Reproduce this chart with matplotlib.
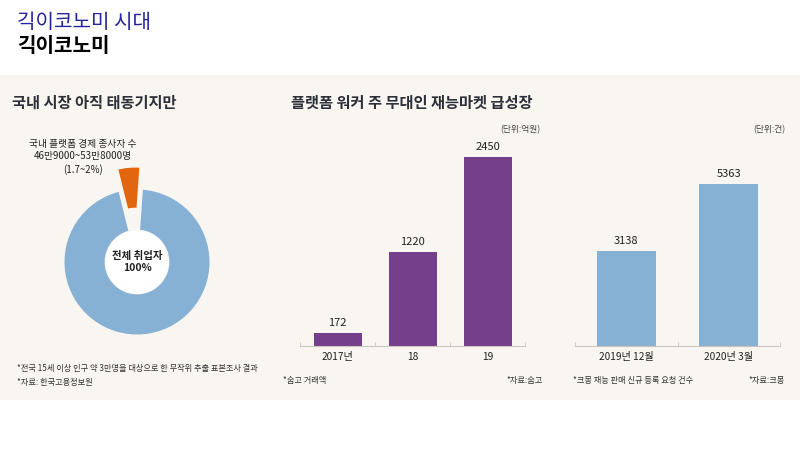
import matplotlib
matplotlib.use("Agg")
import matplotlib.pyplot as plt
from matplotlib.patches import Rectangle, Circle

plt.rcParams['font.family'] = ['Noto Sans CJK KR', 'DejaVu Sans']

# data
pie_labels = ['국내 플랫폼 경제 종사자', '기타 취업자']
pie_shares = [5, 95]   # share as drawn (approx.)

soomgo_years = ['2017년', '18', '19']
soomgo_sales = [172, 1220, 2450]          # 억원

kmong_dates = ['2019년 12월', '2020년 3월']
kmong_requests = [3138, 5363]             # 건

W, H = 800, 450
BG = '#f9f6f1'
PURPLE = '#763f8c'
BLUE = '#86b0d4'
ORANGE = '#e2660f'
DARK = '#2b2f38'


def px(x, y):
    return x / W, 1 - y / H


def box(x0, y0, x1, y1):
    return [x0 / W, 1 - y1 / H, (x1 - x0) / W, (y1 - y0) / H]


fig = plt.figure(figsize=(8, 4.5), dpi=100)
fig.patch.set_facecolor('white')

# beige panel (behind everything)
fig.patches.append(Rectangle((0, 1 - 400 / H), 1, (400 - 75) / H,
                             transform=fig.transFigure, facecolor=BG,
                             edgecolor='none', zorder=-10))

# headline
fig.text(*px(17, 22), '긱이코노미 시대', color='#25249c', fontsize=14.5,
         va='center', ha='left')
fig.text(*px(17, 46), '긱이코노미', color='black', fontsize=14.5,
         fontweight='bold', va='center', ha='left')

# section titles
fig.text(*px(12, 103), '국내 시장 아직 태동기지만', color=DARK, fontsize=11,
         fontweight='bold', va='center', ha='left')
fig.text(*px(291, 103), '플랫폼 워커 주 무대인 재능마켓 급성장', color=DARK,
         fontsize=11, fontweight='bold', va='center', ha='left')

# ---- donut ----
ax_pie = fig.add_axes(box(27, 152, 247, 372))
ax_pie.pie(pie_shares, colors=[ORANGE, BLUE], explode=[0.3, 0],
           startangle=95 - pie_shares[0] / 100 * 180, radius=1,
           wedgeprops=dict(width=0.57, edgecolor=BG, linewidth=1.2))
ax_pie.set_xlim(-1.5, 1.5)
ax_pie.set_ylim(-1.5, 1.5)
ax_pie.set_aspect('equal')
ax_pie.axis('off')
ax_pie.add_patch(Circle((0, 0), 0.43, facecolor='white', edgecolor='none',
                        zorder=5))
ax_pie.text(0, 0, '전체 취업자\n100%', ha='center', va='center', fontsize=7.5,
            fontweight='bold', color='#222222', zorder=6, linespacing=1.3)

fig.text(*px(83, 157), '국내 플랫폼 경제 종사자 수\n46만9000~53만8000명\n(1.7~2%)',
         ha='center', va='center', fontsize=7, color='#222222',
         linespacing=1.25)

fig.text(*px(17, 368), '*전국 15세 이상 인구 약 3만명을 대상으로 한 무작위 추출 표본조사 결과',
         ha='left', va='center', fontsize=5.9, color='#333333')
fig.text(*px(17, 382), '*자료: 한국고용정보원', ha='left', va='center',
         fontsize=5.9, color='#333333')


# ---- bar charts ----
def bar_panel(rect, cats, vals, color, width, ymax):
    ax = fig.add_axes(rect)
    ax.patch.set_alpha(0)
    x = range(len(cats))
    ax.bar(x, vals, width=width, color=color)
    for xi, v in zip(x, vals):
        ax.text(xi, v + ymax * 0.025, f'{v}', ha='center', va='bottom',
                fontsize=8, color='#222222')
    ax.set_xlim(-0.5, len(cats) - 0.5)
    ax.set_ylim(0, ymax)
    for s in ['top', 'right', 'left']:
        ax.spines[s].set_visible(False)
    ax.spines['bottom'].set_color('#c9c6c0')
    ax.spines['bottom'].set_linewidth(0.8)
    ax.set_yticks([])
    ax.set_xticks(list(x))
    ax.set_xticklabels(cats, fontsize=7.3, color='#222222')
    ax.tick_params(axis='x', which='major', length=0, pad=4)
    ax.set_xticks([i - 0.5 for i in range(len(cats) + 1)], minor=True)
    ax.tick_params(axis='x', which='minor', length=3, direction='in',
                   color='#c9c6c0')
    return ax


bar_panel(box(300, 140, 525, 346), soomgo_years, soomgo_sales, PURPLE,
          0.64, 206 / 0.077)
bar_panel(box(575, 140, 780, 346), kmong_dates, kmong_requests, BLUE,
          0.58, 206 / 0.0302)

fig.text(*px(540, 130), '(단위:억원)', ha='right', va='center', fontsize=6.3,
         color='#444444')
fig.text(*px(785, 130), '(단위:건)', ha='right', va='center', fontsize=6.3,
         color='#444444')

fig.text(*px(283, 381), '*숨고 거래액', ha='left', va='center', fontsize=5.9,
         color='#333333')
fig.text(*px(543, 381), '*자료:숨고', ha='right', va='center', fontsize=5.9,
         color='#333333')
fig.text(*px(573, 381), '*크몽 재능 판매 신규 등록 요청 건수', ha='left',
         va='center', fontsize=5.9, color='#333333')
fig.text(*px(785, 381), '*자료:크몽', ha='right', va='center', fontsize=5.9,
         color='#333333')

fig.savefig('out.png', dpi=100, facecolor=fig.get_facecolor())
